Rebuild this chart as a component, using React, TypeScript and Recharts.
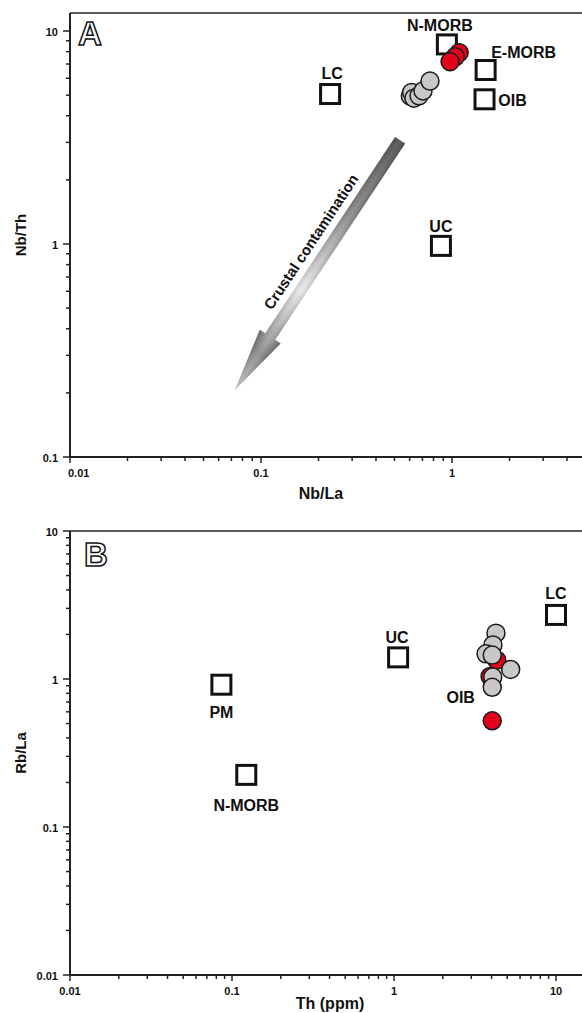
import React from 'react';
import { ScatterChart, Scatter, XAxis, YAxis, ReferenceLine } from 'recharts';

const FONT = '"Liberation Sans", Arial, sans-serif';
const VISIBLE_RIGHT = 575; // the figure is cropped at the window edge

// ---- panel A : Nb/La vs Nb/Th ----
const refA = [
  { name: 'N-MORB', x: 0.94, y: 8.65 },
  { name: 'E-MORB', x: 1.5, y: 6.56 },
  { name: 'OIB', x: 1.48, y: 4.78 },
  { name: 'LC', x: 0.23, y: 5.06 },
  { name: 'UC', x: 0.875, y: 0.98 },
];
const greyA = [
  { x: 0.605, y: 4.95 },
  { x: 0.615, y: 5.15 },
  { x: 0.632, y: 4.84 },
  { x: 0.672, y: 4.96 },
  { x: 0.705, y: 5.23 },
  { x: 0.767, y: 5.82 },
];
const redA = [
  { x: 1.09, y: 7.91 },
  { x: 1.04, y: 7.57 },
  { x: 0.977, y: 7.18 },
];
// tail -> tip of the crustal contamination arrow
const arrowA = [
  { x: 0.535, y: 3.07 },
  { x: 0.073, y: 0.2065 },
];

// ---- panel B : Th vs Rb/La ----
const refB = [
  { name: 'LC', x: 10, y: 2.71 },
  { name: 'UC', x: 1.06, y: 1.4 },
  { name: 'PM', x: 0.086, y: 0.915 },
  { name: 'N-MORB', x: 0.1225, y: 0.225 },
];
const textB = [{ name: 'OIB', x: 2.58, y: 0.745 }];
const redB = [
  { x: 4.31, y: 1.34 },
  { x: 3.92, y: 1.04 },
  { x: 4.04, y: 0.522 },
];
const greyB = [
  { x: 5.25, y: 1.16 },
  { x: 4.26, y: 2.04 },
  { x: 4.08, y: 1.7 },
  { x: 3.7, y: 1.48 },
  { x: 4.04, y: 1.45 },
  { x: 4.07, y: 1.03 },
  { x: 4.04, y: 0.879 },
];

const A_X_DECADES = [0.01, 0.1, 1, 10];
const A_Y_DECADES = [0.1, 1, 10];
const B_X_DECADES = [0.01, 0.1, 1, 10, 100];
const B_Y_DECADES = [0.01, 0.1, 1, 10];
const A_X_DOMAIN: [number, number] = [0.01, 10];
const A_Y_DOMAIN: [number, number] = [0.1, 12.15];
const B_X_DOMAIN: [number, number] = [0.01, 100];
const B_Y_DOMAIN: [number, number] = [0.01, 10];

// label placement (text centre relative to the square)
const LABEL_A: Record<string, [number, number]> = {
  'N-MORB': [-7, -19],
  'E-MORB': [38, -18],
  OIB: [28, 1],
  LC: [2, -21],
  UC: [0, -19],
};
const LABEL_B: Record<string, [number, number]> = {
  LC: [0, -21],
  UC: [-1, -20],
  PM: [0, 28],
  'N-MORB': [0, 31],
};

function logTicks(decades: number[], domain: [number, number]) {
  const out: number[] = [];
  decades.forEach((p) => {
    for (let m = 1; m <= 9; m++) {
      const v = parseFloat((m * p).toPrecision(6));
      if (v >= domain[0] - 1e-9 && v <= domain[1] + 1e-9) out.push(v);
    }
  });
  return out;
}

const isMajor = (v: number) => Math.abs(Math.log10(v) - Math.round(Math.log10(v))) < 1e-6;

const xTick = (firstStart: boolean) => (props: any) => {
  const { x, y, payload, index } = props;
  const major = isMajor(payload.value);
  return (
    <g>
      <line x1={x} x2={x} y1={y} y2={y + (major ? 6 : 4)} stroke="#222" strokeWidth={1.5} />
      {major && x < VISIBLE_RIGHT && (
        <text
          x={firstStart && index === 0 ? x - 2 : x}
          y={y + 16}
          textAnchor={firstStart && index === 0 ? 'start' : 'middle'}
          dominantBaseline="central"
          fontFamily={FONT}
          fontWeight="bold"
          fontSize={11}
          fill="#111"
        >
          {String(payload.value)}
        </text>
      )}
    </g>
  );
};

const yTick = (props: any) => {
  const { x, y, payload } = props;
  const major = isMajor(payload.value);
  return (
    <g>
      <line x1={x} x2={x - (major ? 7 : 4)} y1={y} y2={y} stroke="#222" strokeWidth={1.5} />
      {major && (
        <text
          x={x - 12}
          y={y + 1}
          textAnchor="end"
          dominantBaseline="central"
          fontFamily={FONT}
          fontWeight="bold"
          fontSize={11}
          fill="#111"
        >
          {String(payload.value)}
        </text>
      )}
    </g>
  );
};

const squareShape = (labels: Record<string, [number, number]>) => (props: any) => {
  const { cx, cy, payload } = props;
  const off = labels[payload.name] || [0, -20];
  return (
    <g>
      <rect x={cx - 9.5} y={cy - 9.5} width={19} height={19} fill="#fff" stroke="#111" strokeWidth={3} />
      <text
        x={cx + off[0]}
        y={cy + off[1]}
        textAnchor="middle"
        dominantBaseline="central"
        fontFamily={FONT}
        fontWeight="bold"
        fontSize={16}
        fill="#111"
      >
        {payload.name}
      </text>
    </g>
  );
};

const textShape = (props: any) => (
  <text
    x={props.cx}
    y={props.cy}
    textAnchor="middle"
    dominantBaseline="central"
    fontFamily={FONT}
    fontWeight="bold"
    fontSize={16}
    fill="#111"
  >
    {props.payload.name}
  </text>
);

const circleShape = (fill: string) => (props: any) => (
  <circle cx={props.cx} cy={props.cy} r={9} fill={fill} stroke="#1a1a1a" strokeWidth={1.5} />
);

function ContaminationArrow(props: any) {
  const { x1, y1, x2, y2 } = props;
  const dx = x2 - x1;
  const dy = y2 - y1;
  const len = Math.hypot(dx, dy);
  const ux = dx / len;
  const uy = dy / len;
  const nx = -uy;
  const ny = ux;
  const shaft = 6;
  const head = 12.5;
  const headLen = 64;
  const bx = x2 - ux * headLen;
  const by = y2 - uy * headLen;
  const pts = [
    [x1 + nx * shaft, y1 + ny * shaft],
    [bx + nx * shaft, by + ny * shaft],
    [bx + nx * head, by + ny * head],
    [x2, y2],
    [bx - nx * head, by - ny * head],
    [bx - nx * shaft, by - ny * shaft],
    [x1 - nx * shaft, y1 - ny * shaft],
  ]
    .map((p) => p.join(','))
    .join(' ');
  const ang = (Math.atan2(y1 - y2, x1 - x2) * 180) / Math.PI;
  const t = 0.447;
  const tx = x1 + dx * t + nx * 18.5;
  const ty = y1 + dy * t + ny * 18.5;
  return (
    <g>
      <defs>
        <linearGradient id="arrAlong" gradientUnits="userSpaceOnUse" x1={x1} y1={y1} x2={x2} y2={y2}>
          <stop offset="0" stopColor="#383838" />
          <stop offset="0.3" stopColor="#7a7a7a" />
          <stop offset="0.6" stopColor="#e8e8e8" />
          <stop offset="0.74" stopColor="#a8a8a8" />
          <stop offset="0.85" stopColor="#7e7e7e" />
          <stop offset="1" stopColor="#b0b0b0" />
        </linearGradient>
        <linearGradient
          id="arrAcross"
          gradientUnits="userSpaceOnUse"
          x1={x1 + nx * head}
          y1={y1 + ny * head}
          x2={x1 - nx * head}
          y2={y1 - ny * head}
        >
          <stop offset="0" stopColor="#000" stopOpacity={0.3} />
          <stop offset="0.5" stopColor="#fff" stopOpacity={0.2} />
          <stop offset="1" stopColor="#000" stopOpacity={0.3} />
        </linearGradient>
      </defs>
      <polygon points={pts} fill="url(#arrAlong)" />
      <polygon points={pts} fill="url(#arrAcross)" />
      <text
        transform={`translate(${tx},${ty}) rotate(${ang})`}
        textAnchor="middle"
        dominantBaseline="central"
        fontFamily={FONT}
        fontWeight="bold"
        fontSize={15}
        fill="#111"
      >
        Crustal contamination
      </text>
    </g>
  );
}

const titleStyle = { fontFamily: FONT, fontWeight: 'bold' as const, fill: '#111' };

export default function App() {
  return (
    <div
      style={{
        position: 'fixed',
        left: 0,
        top: 0,
        width: 582,
        height: 1013,
        overflow: 'hidden',
        background: '#fff',
      }}
    >
      <div style={{ position: 'absolute', left: 0, top: 0 }}>
        <ScatterChart width={650} height={510} margin={{ top: 13, right: 7, bottom: 0, left: 0 }}>
          <XAxis
            type="number"
            dataKey="x"
            scale="log"
            domain={A_X_DOMAIN}
            allowDataOverflow
            ticks={logTicks(A_X_DECADES, A_X_DOMAIN)}
            interval={0}
            tickSize={0}
            tickMargin={0}
            tickLine={false}
            tick={xTick(true)}
            height={53}
            axisLine={{ stroke: '#222', strokeWidth: 2 }}
          />
          <YAxis
            type="number"
            dataKey="y"
            scale="log"
            domain={A_Y_DOMAIN}
            allowDataOverflow
            ticks={logTicks(A_Y_DECADES, A_Y_DOMAIN)}
            interval={0}
            tickSize={0}
            tickMargin={0}
            tickLine={false}
            tick={yTick}
            width={70}
            axisLine={{ stroke: '#222', strokeWidth: 2 }}
          />
          <ReferenceLine y={A_Y_DOMAIN[1]} stroke="#222" strokeWidth={1.5} />
          <ReferenceLine segment={arrowA} shape={ContaminationArrow} />
          <Scatter data={refA} shape={squareShape(LABEL_A)} isAnimationActive={false} />
          <Scatter data={greyA} shape={circleShape('#c9c8c6')} isAnimationActive={false} />
          <Scatter data={redA} shape={circleShape('#e2001a')} isAnimationActive={false} />
        </ScatterChart>
        <svg width={582} height={510} style={{ position: 'absolute', left: 0, top: 0, pointerEvents: 'none' }}>
          <text x={78} y={45} fontFamily={FONT} fontWeight="bold" fontSize={33} fill="#fff" stroke="#111" strokeWidth={1.5}>
            A
          </text>
          <text x={321} y={493} textAnchor="middle" dominantBaseline="central" fontSize={16} {...titleStyle}>
            Nb/La
          </text>
          <text
            transform="translate(20,235) rotate(-90)"
            textAnchor="middle"
            dominantBaseline="central"
            fontSize={15}
            {...titleStyle}
          >
            Nb/Th
          </text>
        </svg>
      </div>

      <div style={{ position: 'absolute', left: 0, top: 510 }}>
        <ScatterChart width={720} height={503} margin={{ top: 21, right: 2, bottom: 0, left: 0 }}>
          <XAxis
            type="number"
            dataKey="x"
            scale="log"
            domain={B_X_DOMAIN}
            allowDataOverflow
            ticks={logTicks(B_X_DECADES, B_X_DOMAIN)}
            interval={0}
            tickSize={0}
            tickMargin={0}
            tickLine={false}
            tick={xTick(false)}
            height={38}
            axisLine={{ stroke: '#222', strokeWidth: 2 }}
          />
          <YAxis
            type="number"
            dataKey="y"
            scale="log"
            domain={B_Y_DOMAIN}
            allowDataOverflow
            ticks={logTicks(B_Y_DECADES, B_Y_DOMAIN)}
            interval={0}
            tickSize={0}
            tickMargin={0}
            tickLine={false}
            tick={yTick}
            width={70}
            axisLine={{ stroke: '#222', strokeWidth: 2 }}
          />
          <ReferenceLine y={B_Y_DOMAIN[1]} stroke="#222" strokeWidth={1.5} />
          <Scatter data={refB} shape={squareShape(LABEL_B)} isAnimationActive={false} />
          <Scatter data={textB} shape={textShape} isAnimationActive={false} />
          <Scatter data={redB} shape={circleShape('#e2001a')} isAnimationActive={false} />
          <Scatter data={greyB} shape={circleShape('#c9c8c6')} isAnimationActive={false} />
        </ScatterChart>
        <svg width={582} height={503} style={{ position: 'absolute', left: 0, top: 0, pointerEvents: 'none' }}>
          <text x={84} y={56} fontFamily={FONT} fontWeight="bold" fontSize={33} fill="#fff" stroke="#111" strokeWidth={1.5}>
            B
          </text>
          <text x={330} y={493} textAnchor="middle" dominantBaseline="central" fontSize={16} {...titleStyle}>
            Th (ppm)
          </text>
          <text
            transform="translate(20,243) rotate(-90)"
            textAnchor="middle"
            dominantBaseline="central"
            fontSize={15}
            {...titleStyle}
          >
            Rb/La
          </text>
        </svg>
      </div>
    </div>
  );
}
